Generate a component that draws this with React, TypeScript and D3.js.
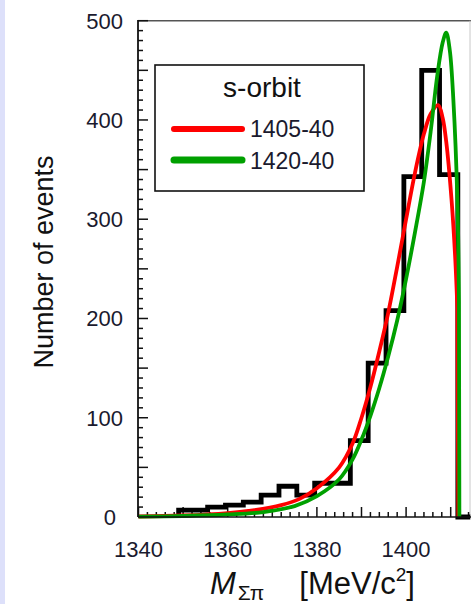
import React from "react";
import * as d3 from "d3";

// ---- data ----
const binEdges = [1349, 1355.5, 1359.5, 1363.5, 1367.5, 1371.5, 1375.5, 1379.5, 1383.5, 1387.5, 1391.5, 1395.5, 1399.5, 1403.5, 1407.5, 1411.6];
const binCounts = [7, 10, 12, 15, 22, 31, 22, 34, 34, 77, 155, 208, 343, 450, 345];

const redMass = [1340, 1350, 1360, 1366, 1372, 1376, 1380, 1385, 1388, 1390, 1392, 1394, 1396, 1398, 1400, 1402, 1404, 1405.5, 1407.2, 1408.2, 1409.0, 1410.2, 1411.0, 1411.5];
const redValue = [0.5, 1.5, 4, 7, 12, 18, 29, 50, 74, 100, 131, 167, 206, 252, 300, 347, 386, 406, 415, 402, 378, 319, 262, 210];
const redEnd = 1411.7;

const greenMass = [1340, 1350, 1360, 1368, 1375, 1380, 1385, 1388, 1390, 1392, 1394, 1396, 1398, 1400, 1402, 1404, 1405.5, 1407, 1408.2, 1409.0, 1409.8, 1410.6, 1411.5, 1411.85];
const greenValue = [0.3, 1, 2.5, 5, 11, 21, 38, 58, 78, 102, 130, 162, 198, 240, 287, 338, 388, 445, 478, 488, 470, 420, 319, 218];
const greenEnd = 1411.95;

const xTickLabels = [1340, 1360, 1380, 1400];
const yTickLabels = [0, 100, 200, 300, 400, 500];
const legendTitle = "s-orbit";
const seriesNames = ["1405-40", "1420-40"];
const yTitle = "Number of events";

const W = 471;
const H = 604;
const FONT = "'Liberation Sans', Arial, Helvetica, sans-serif";
const RED = "#ff0000";
const GREEN = "#00a000";

export default function App() {
  const x = d3.scaleLinear().domain([1340, 1400]).range([138.5, 406.1]);
  const y = d3.scaleLinear().domain([0, 500]).range([517, 20.7]);
  const xMax = 1414.4;
  const left = x(1340) - 0.5;
  const bottom = y(0);
  const top = y(500);

  // histogram step path
  const histPts: [number, number][] = [[binEdges[0], 0]];
  binCounts.forEach((c, i) => {
    histPts.push([binEdges[i], c]);
    histPts.push([binEdges[i + 1], c]);
  });
  histPts.push([binEdges[binEdges.length - 1], 0]);
  histPts.push([xMax, 0]);
  const histPath = d3
    .line<[number, number]>()
    .x((d) => x(d[0]))
    .y((d) => y(d[1]))
    .curve(d3.curveLinear)(histPts) as string;

  const curve = d3
    .line<[number, number]>()
    .x((d) => x(d[0]))
    .y((d) => y(d[1]))
    .curve(d3.curveCatmullRom.alpha(0.5));
  const redPath =
    (curve(redMass.map((m, i) => [m, redValue[i]] as [number, number])) as string) +
    `L${x(redEnd)},${y(0)}`;
  const greenPath =
    (curve(greenMass.map((m, i) => [m, greenValue[i]] as [number, number])) as string) +
    `L${x(greenEnd)},${y(0)}`;

  const yMinor = d3.range(0, 501, 10);
  const xMinor = d3.range(1340, xMax + 0.01, 2);

  return (
    <svg
      width={W}
      height={H}
      viewBox={`0 0 ${W} ${H}`}
      style={{ position: "absolute", left: 0, top: 0, background: "#fff" }}
    >
      <rect x={0} y={0} width={W} height={H} fill="#ffffff" />
      <rect x={0} y={0} width={5} height={H} fill="#dde0fa" />

      {/* frame */}
      <line x1={left} x2={W} y1={top} y2={top} stroke="#555" strokeWidth={1.6} />
      <line x1={470} x2={470} y1={top} y2={bottom} stroke="#c8c8c8" strokeWidth={1} />

      {/* y ticks */}
      {yMinor.map((v) => (
        <line
          key={"yt" + v}
          x1={left}
          x2={left + (v % 50 === 0 ? 10 : 5)}
          y1={y(v)}
          y2={y(v)}
          stroke="#111"
          strokeWidth={1.5}
        />
      ))}
      {/* x ticks */}
      {xMinor.map((v) => (
        <line
          key={"xt" + v}
          x1={x(v)}
          x2={x(v)}
          y1={bottom}
          y2={bottom - (v % 10 === 0 ? 10 : 5)}
          stroke="#111"
          strokeWidth={1.5}
        />
      ))}

      {/* histogram */}
      <path d={histPath} fill="none" stroke="#000" strokeWidth={4.8} strokeLinejoin="miter" />

      {/* fitted curves */}
      <path d={redPath} fill="none" stroke={RED} strokeWidth={3.8} strokeLinejoin="round" />
      <path d={greenPath} fill="none" stroke={GREEN} strokeWidth={3.8} strokeLinejoin="round" />

      {/* axis lines */}
      <line x1={left} x2={left} y1={top - 0.8} y2={bottom} stroke="#111" strokeWidth={1.8} />
      <line x1={left} x2={W} y1={bottom} y2={bottom} stroke="#111" strokeWidth={1.6} />

      {/* y tick labels */}
      {yTickLabels.map((v) => (
        <text
          key={"yl" + v}
          x={v === 0 ? 116 : 123}
          y={y(v)}
          dy="0.36em"
          textAnchor="end"
          fontFamily={FONT}
          fontSize={22}
          fill="#1a1a2e"
        >
          {v}
        </text>
      ))}
      {/* x tick labels */}
      {xTickLabels.map((v) => (
        <text
          key={"xl" + v}
          x={x(v)}
          y={557}
          textAnchor="middle"
          fontFamily={FONT}
          fontSize={22}
          fill="#1a1a2e"
        >
          {v}
        </text>
      ))}

      {/* y title */}
      <text
        transform="translate(53,262) rotate(-90)"
        textAnchor="middle"
        fontFamily={FONT}
        fontSize={27}
        fill="#111"
      >
        {yTitle}
      </text>

      {/* x title */}
      <text x={210} y={594} fontFamily={FONT} fontSize={31} fill="#111">
        <tspan fontStyle="italic">M</tspan>
        <tspan fontSize={21} dx={2} dy={6}>Σπ</tspan>
        <tspan dx={35} dy={-6}>[MeV/c</tspan>
        <tspan fontSize={19} dy={-13}>2</tspan>
        <tspan dy={13}>]</tspan>
      </text>

      {/* legend */}
      <rect x={155} y={65} width={209} height={126} fill="#fff" stroke="#111" strokeWidth={1.6} />
      <text x={262} y={97} textAnchor="middle" fontFamily={FONT} fontSize={28} fill="#111">
        {legendTitle}
      </text>
      <line x1={174} x2={242} y1={129} y2={129} stroke={RED} strokeWidth={6} strokeLinecap="round" />
      <text x={250} y={137} fontFamily={FONT} fontSize={23} fill="#1a1a2e">
        {seriesNames[0]}
      </text>
      <line x1={174} x2={242} y1={160} y2={160} stroke={GREEN} strokeWidth={7} strokeLinecap="round" />
      <text x={250} y={169} fontFamily={FONT} fontSize={23} fill="#1a1a2e">
        {seriesNames[1]}
      </text>
    </svg>
  );
}
